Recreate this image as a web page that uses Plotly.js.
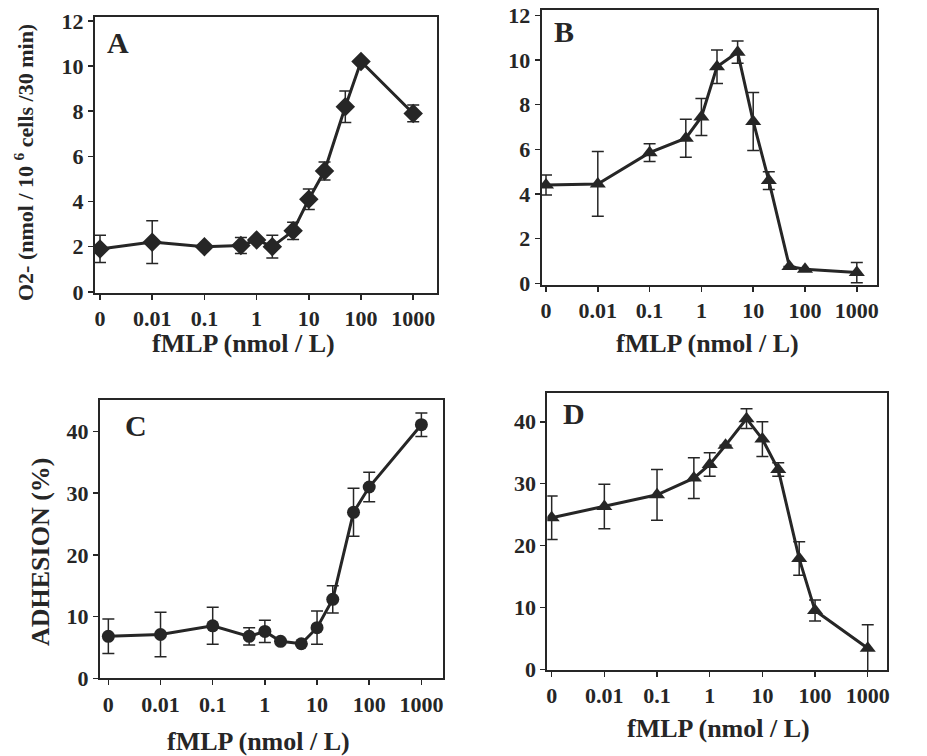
<!DOCTYPE html>
<html>
<head>
<meta charset="utf-8">
<script src="https://cdn.plot.ly/plotly-3.0.1.min.js"></script>
<style>html,body{margin:0;padding:0;background:#fff;}#chart{width:927px;height:756px;}</style>
</head>
<body>
<div id="chart"></div>
<script>
// fMLP concentrations (nmol/L); "0" is drawn at the 0.001 position of the log axis
const concentration = [0.001, 0.01, 0.1, 0.5, 1, 2, 5, 10, 20, 50, 100, 1000];
const tickValues = [0.001, 0.01, 0.1, 1, 10, 100, 1000];
const tickLabels = ['0', '0.01', '0.1', '1', '10', '100', '1000'];

// Panel A: O2- production
const superoxideA = [1.9, 2.2, 2.0, 2.05, 2.3, 2.0, 2.7, 4.1, 5.35, 8.2, 10.2, 7.9];
const superoxideAErr = [0.6, 0.95, 0, 0.35, 0, 0.5, 0.38, 0.45, 0.4, 0.7, 0, 0.37];
// Panel B: O2- production
const superoxideB = [4.4, 4.45, 5.85, 6.5, 7.45, 9.7, 10.35, 7.25, 4.6, 0.75, 0.63, 0.48];
const superoxideBErr = [0.45, 1.45, 0.4, 0.85, 0.83, 0.75, 0.5, 1.3, 0.4, 0, 0, 0.45];
// Panel C: adhesion (%)
const adhesionC = [6.8, 7.1, 8.5, 6.8, 7.6, 6.0, 5.6, 8.2, 12.8, 26.9, 31.0, 41.1];
const adhesionCErr = [2.8, 3.6, 3.0, 1.4, 1.8, 0, 0, 2.7, 2.2, 3.9, 2.4, 1.9];
// Panel D: adhesion (%)
const adhesionD = [24.5, 26.3, 28.2, 30.9, 33.1, 36.2, 40.5, 37.2, 32.3, 17.9, 9.5, 3.4];
const adhesionDErr = [3.5, 3.6, 4.1, 3.3, 1.9, 0, 1.6, 2.8, 1.1, 2.7, 1.7, 3.8];

const yTicksO2 = [0, 2, 4, 6, 8, 10, 12];
const yTicksAdh = [0, 10, 20, 30, 40];

const W = 927, H = 756;
const ink = '#262626';
const FONT = 'Liberation Serif, Times New Roman, serif';

function px(x) { return x / W; }
function py(y) { return 1 - y / H; }

function trace(y, err, symbol, size, xa, ya) {
  return {
    x: concentration, y: y, xaxis: xa, yaxis: ya,
    type: 'scatter', mode: 'lines+markers',
    line: {color: ink, width: 3},
    marker: {symbol: symbol, size: size, color: ink},
    error_y: {type: 'data', array: err, visible: true, color: ink, thickness: 1.5, width: 6},
    cliponaxis: true, showlegend: false, hoverinfo: 'x+y'
  };
}

const data = [
  trace(superoxideA, superoxideAErr, 'diamond', 15, 'x', 'y'),
  trace(superoxideB, superoxideBErr, 'triangle-up', 14, 'x2', 'y2'),
  trace(adhesionC, adhesionCErr, 'circle', 13, 'x3', 'y3'),
  trace(adhesionD, adhesionDErr, 'triangle-up', 14, 'x4', 'y4')
];

const tickFont = {family: FONT, size: 22, color: ink, weight: 'bold'};

function xAxis(l, r, range, anchor) {
  return {
    domain: [px(l), px(r)], anchor: anchor, type: 'log', range: range,
    tickmode: 'array', tickvals: tickValues, ticktext: tickLabels,
    ticks: 'outside', ticklen: 5, tickwidth: 1.5, tickcolor: ink,
    showline: true, mirror: true, linewidth: 2, linecolor: ink,
    showgrid: false, zeroline: false, tickfont: tickFont
  };
}
function yAxis(b, t, range, vals, anchor) {
  return {
    domain: [py(b), py(t)], anchor: anchor, range: range,
    tickmode: 'array', tickvals: vals,
    ticks: 'outside', ticklen: 5, tickwidth: 1.5, tickcolor: ink,
    showline: true, mirror: true, linewidth: 2, linecolor: ink,
    showgrid: false, zeroline: false, tickfont: tickFont
  };
}

const letterFont = {family: FONT, size: 30, color: ink, weight: 'bold'};
const titleFont = {family: FONT, size: 26, color: ink, weight: 'bold'};

function ann(text, x, y, font, angle) {
  return {text: text, xref: 'paper', yref: 'paper', x: px(x), y: py(y),
          xanchor: 'center', yanchor: 'middle', showarrow: false, font: font, textangle: angle || 0};
}

const layout = {
  width: W, height: H,
  margin: {l: 0, r: 0, t: 0, b: 0},
  paper_bgcolor: '#fff', plot_bgcolor: '#fff',
  xaxis: xAxis(95, 436.7, [-3.096, 3.45], 'y'),
  yaxis: yAxis(292.7, 17.3, [-0.04, 12.16], yTicksO2, 'x'),
  xaxis2: xAxis(541.7, 876.7, [-3.083, 3.384], 'y2'),
  yaxis2: yAxis(285, 10, [-0.076, 12.24], yTicksO2, 'x2'),
  xaxis3: xAxis(100, 443.3, [-3.16, 3.42], 'y3'),
  yaxis3: yAxis(678.3, 400, [0, 45.1], yTicksAdh, 'x3'),
  xaxis4: xAxis(547.3, 886.7, [-3.083, 3.36], 'y4'),
  yaxis4: yAxis(670, 392.7, [-0.1, 44.7], yTicksAdh, 'x4'),
  annotations: [
    ann('A', 118, 43, letterFont),
    ann('B', 564, 31, letterFont),
    ann('C', 136, 425, letterFont),
    ann('D', 574, 413, letterFont),
    ann('fMLP (nmol / L)', 243, 343, titleFont),
    ann('fMLP (nmol / L)', 707, 343, titleFont),
    ann('fMLP (nmol / L)', 258, 741, titleFont),
    ann('fMLP (nmol / L)', 718, 728, titleFont),
    ann('O2- (nmol / 10 <sup>6</sup> cells /30 min)', 24, 163, {family: FONT, size: 22, color: ink, weight: 'bold'}, -90),
    ann('ADHESION (%)', 40, 552, {family: FONT, size: 26, color: ink, weight: 'bold'}, -90)
  ]
};

Plotly.newPlot('chart', data, layout, {displayModeBar: false, staticPlot: true});
</script>
</body>
</html>
